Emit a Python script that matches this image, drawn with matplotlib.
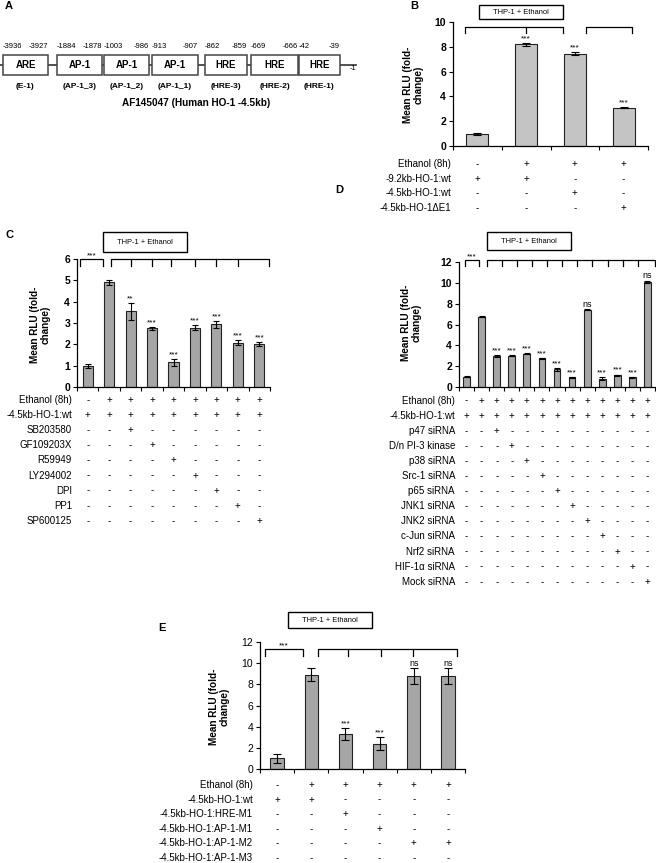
import matplotlib
matplotlib.use("Agg")
import matplotlib.pyplot as plt
import numpy as np
from matplotlib.patches import Rectangle
from matplotlib.transforms import blended_transform_factory

plt.rcParams['font.family'] = ['Liberation Sans', 'DejaVu Sans']

W, H = 656, 863

# ---- panel A: promoter elements ----
a_names = ["ARE", "AP-1", "AP-1", "AP-1", "HRE", "HRE", "HRE"]
a_sub = ["(E-1)", "(AP-1_3)", "(AP-1_2)", "(AP-1_1)", "(HRE-3)", "(HRE-2)", "(HRE-1)"]
a_start = ["-3936", "-1884", "-1003", "-913", "-862", "-669", "-42"]
a_end = ["-3927", "-1878", "-986", "-907", "-859", "-666", "-39"]

# ---- panel B ----
b_vals = [1.0, 8.2, 7.45, 3.08]
b_err = [0.08, 0.12, 0.15, 0.04]
b_sig = ["", "***", "***", "***"]
b_rows = ["Ethanol (8h)", "-9.2kb-HO-1:wt", "-4.5kb-HO-1:wt", "-4.5kb-HO-1\u0394E1"]
b_signs = ["-+++", "++--", "--+-", "---+"]

# ---- panel C ----
c_vals = [1.0, 4.9, 3.55, 2.75, 1.15, 2.78, 2.93, 2.08, 2.02]
c_err = [0.1, 0.1, 0.4, 0.07, 0.15, 0.12, 0.18, 0.13, 0.1]
c_sig = ["", "", "**", "***", "***", "***", "***", "***", "***"]
c_rows = ["Ethanol (8h)", "-4.5kb-HO-1:wt", "SB203580", "GF109203X", "R59949",
          "LY294002", "DPI", "PP1", "SP600125"]
c_signs = ["-++++++++", "+++++++++", "--+------", "---+-----", "----+----",
           "-----+---", "------+--", "-------+-", "--------+"]

# ---- panel D ----
d_vals = [1.0, 6.75, 3.0, 3.0, 3.2, 2.75, 1.7, 0.95, 7.4, 0.8, 1.15, 0.95, 10.1]
d_err = [0.05, 0.05, 0.08, 0.05, 0.05, 0.05, 0.12, 0.05, 0.05, 0.12, 0.05, 0.05, 0.08]
d_sig = ["", "", "***", "***", "***", "***", "***", "***", "ns", "***", "***", "***", "ns"]
d_rows = ["Ethanol (8h)", "-4.5kb-HO-1:wt", "p47 siRNA", "D/n PI-3 kinase", "p38 siRNA",
          "Src-1 siRNA", "p65 siRNA", "JNK1 siRNA", "JNK2 siRNA", "c-Jun siRNA",
          "Nrf2 siRNA", "HIF-1\u03b1 siRNA", "Mock siRNA"]
d_signs = ["-" + "+" * 12, "+" * 13] + ["-" * k + "+" + "-" * (12 - k) for k in range(2, 13)]

# ---- panel E ----
e_vals = [1.0, 8.9, 3.3, 2.4, 8.75, 8.75]
e_err = [0.4, 0.6, 0.6, 0.65, 0.75, 0.75]
e_sig = ["", "", "***", "***", "ns", "ns"]
e_rows = ["Ethanol (8h)", "-4.5kb-HO-1:wt", "-4.5kb-HO-1:HRE-M1", "-4.5kb-HO-1:AP-1-M1",
          "-4.5kb-HO-1:AP-1-M2", "-4.5kb-HO-1:AP-1-M3"]
e_signs = ["-+++++", "++----", "--+---", "---+--", "----++", "------"]

fig = plt.figure(figsize=(W / 100, H / 100), dpi=100)
ov = fig.add_axes([0, 0, 1, 1])
ov.set_xlim(0, W)
ov.set_ylim(H, 0)
ov.axis('off')


def px_axes(x0, y0, x1, y1):
    return fig.add_axes([x0 / W, 1 - y1 / H, (x1 - x0) / W, (y1 - y0) / H])


def bar_panel(ax, vals, err, sig, ymax, step, color, bold, sigsize=6, cap=2.5, bw=0.45):
    x = np.arange(len(vals))
    ax.bar(x, vals, width=bw, color=color, edgecolor='#222222', linewidth=0.8, zorder=2)
    ax.errorbar(x, vals, yerr=err, fmt='none', ecolor='black', elinewidth=0.8,
                capsize=cap, capthick=0.8, zorder=3)
    for xi, v, e, s in zip(x, vals, err, sig):
        if s:
            fs = 6.5 if s == "ns" else sigsize
            ax.text(xi, v + e + ymax * 0.005, s, ha='center', va='bottom', fontsize=fs)
    ax.set_xlim(-0.5, len(vals) - 0.5)
    ax.set_ylim(0, ymax)
    ax.set_yticks(np.arange(0, ymax + 0.01, step))
    ax.set_xticks(np.arange(len(vals) + 1) - 0.5)
    ax.set_xticklabels([])
    ax.tick_params(axis='x', length=3, width=0.8)
    ax.tick_params(axis='y', length=3, width=0.8, labelsize=7.5, pad=2)
    for lab in ax.get_yticklabels():
        lab.set_fontweight('bold' if bold else 'normal')
    for sp in ['top', 'right']:
        ax.spines[sp].set_visible(False)
    for sp in ['left', 'bottom']:
        ax.spines[sp].set_linewidth(0.9)
    ax.patch.set_alpha(0)


def bracket(ax, xl, xr, ticks, y, drop, label=None):
    xs = [xl, xl, xr, xr]
    ys = [y - drop, y, y, y - drop]
    ax.plot(xs, ys, color='black', lw=0.9, clip_on=False)
    for t in ticks:
        ax.plot([t, t], [y, y - drop], color='black', lw=0.9, clip_on=False)
    if label:
        ax.text((xl + xr) / 2, y, label, ha='center', va='bottom', fontsize=6)


def table(ax, labels, signs, xlab, y0, dy):
    tr = blended_transform_factory(ax.transData, ov.transData)
    for r, (lab, row) in enumerate(zip(labels, signs)):
        y = y0 + r * dy
        ov.text(xlab, y, lab, ha='right', va='center', fontsize=7)
        for i, s in enumerate(row):
            ov.text(i, y, s, transform=tr, ha='center', va='center', fontsize=7)


def title_box(x0, y0, x1, y1):
    ov.add_patch(Rectangle((x0, y0), x1 - x0, y1 - y0, fill=False, ec='black', lw=1))
    ov.text((x0 + x1) / 2, (y0 + y1) / 2, "THP-1 + Ethanol", ha='center', va='center',
            fontsize=5.4)


def ylab(x, y):
    ov.text(x, y, "Mean RLU (fold-\nchange)", rotation=90, ha='center', va='center',
            fontsize=7.2, fontweight='bold', multialignment='center', linespacing=1.1)


# ---- panel A drawing ----
box_x = [(3, 48), (57, 102), (104, 149), (152, 198), (205, 247), (251, 298), (299, 340)]
ov.plot([0, 356], [65, 65], color='#333333', lw=1.2)
for (x0, x1), nm, sb, s0, s1 in zip(box_x, a_names, a_sub, a_start, a_end):
    ov.add_patch(Rectangle((x0, 55), x1 - x0, 20, fc='white', ec='#444444', lw=1.1, zorder=3))
    ov.text((x0 + x1) / 2, 65.5, nm, ha='center', va='center', fontsize=7, fontweight='bold', zorder=4)
    ov.text((x0 + x1) / 2, 87, sb, ha='center', va='center', fontsize=6, fontweight='bold')
    ov.text(x0, 47, s0, ha='left', va='center', fontsize=5.5)
    ov.text(x1, 47, s1, ha='right', va='center', fontsize=5.5)
ov.text(353, 69, "-1", ha='center', va='center', fontsize=5.5)
ov.text(196, 103, "AF145047 (Human HO-1 -4.5kb)", ha='center', va='center',
        fontsize=7.2, fontweight='bold')

# panel letters
for t, (x, y) in zip("ABCDE", [(5, 6), (410, 6), (5, 235), (335, 190), (158, 628)]):
    ov.text(x, y, t, ha='left', va='center', fontsize=8, fontweight='bold')

# ---- panel B ----
axB = px_axes(453, 22, 648, 146)
bar_panel(axB, b_vals, b_err, b_sig, 10, 2, '#c4c4c4', True, cap=3)
bracket(axB, -0.25, 1.76, [1.0], 9.6, 0.5)
bracket(axB, 2.23, 3.17, [], 9.6, 0.5)
title_box(479, 5, 563, 19)
ylab(413, 85)
table(axB, b_rows, b_signs, 451, 164, 14.7)

# ---- panel C ----
axC = px_axes(77, 259, 270, 387)
bar_panel(axC, c_vals, c_err, c_sig, 6, 1, '#a6a6a6', True, cap=2.5, bw=0.47)
bracket(axC, -0.36, 0.71, [], 6.0, 0.33, "***")
bracket(axC, 1.09, 8.47, [2, 3, 3.9, 5, 6, 7], 6.0, 0.33)
title_box(103, 232, 187, 252)
ylab(40, 325)
table(axC, c_rows, c_signs, 72, 400, 15.1)

# ---- panel D ----
axD = px_axes(459, 262, 655, 387)
bar_panel(axD, d_vals, d_err, d_sig, 12, 2, '#a6a6a6', True, cap=2, bw=0.45)
bracket(axD, -0.1, 0.8, [], 12.2, 0.6, "***")
bracket(axD, 1.35, 12.48, [i + 0.35 for i in range(2, 12)], 12.2, 0.6)
title_box(487, 232, 571, 250)
ylab(411.5, 323)
table(axD, d_rows, d_signs, 455, 400.5, 15.1)

# ---- panel E ----
axE = px_axes(260, 642, 465, 769)
bar_panel(axE, e_vals, e_err, e_sig, 12, 2, '#a6a6a6', False, cap=3, bw=0.39)
bracket(axE, -0.35, 0.76, [], 11.3, 0.6, "***")
bracket(axE, 1.2, 5.26, [2.07, 3.04, 3.97], 11.3, 0.6)
title_box(288, 612, 372, 628)
ylab(219, 707)
table(axE, e_rows, e_signs, 253, 785, 14.6)

fig.savefig("out.png", dpi=100)
